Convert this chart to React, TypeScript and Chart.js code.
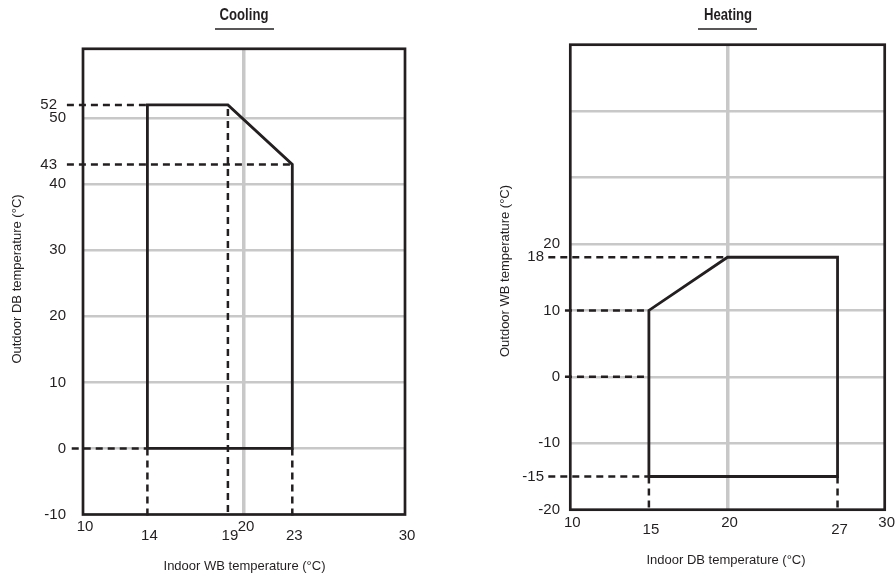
import React, { useEffect, useRef } from "react";
import { Chart, registerables } from "chart.js";

Chart.register(...registerables);

const INK = "#231f20";
const GRID_GREY = "#c8c8c8";
const TICK_FONT = '15px "Liberation Sans", Arial, sans-serif';
const AXIS_FONT = '13px "Liberation Sans", Arial, sans-serif';
const TITLE_FONT = 'bold 16px "Liberation Sans", Arial, sans-serif';
const TITLE_CONDENSE = 0.82;

// ---------------- Cooling ----------------
const coolingTitle = "Cooling";
const coolingXTitle = "Indoor WB temperature (°C)";
const coolingYTitle = "Outdoor DB temperature (°C)";
const coolingXTickLabels = [10, 14, 19, 20, 23, 30];
const coolingYTickLabels = [-10, 0, 10, 20, 30, 40, 43, 50, 52];
const coolingGridX = [20];
const coolingGridY = [0, 10, 20, 30, 40, 50];
const coolingEnvelopeX = [14, 14, 19, 23, 23, 14];
const coolingEnvelopeY = [0, 52, 52, 43, 0, 0];
// guide lines: [x1, y1, x2, y2] in axis units
const coolingGuides: number[][] = [
  [9.0, 52, 14, 52],
  [9.0, 43, 23, 43],
  [9.3, 0, 14, 0],
  [19, 51.4, 19, -10],
  [14, 0, 14, -10.5],
  [23, 0, 23, -10.5],
];

// ---------------- Heating ----------------
const heatingTitle = "Heating";
const heatingXTitle = "Indoor DB temperature (°C)";
const heatingYTitle = "Outdoor WB temperature (°C)";
const heatingXTickLabels = [10, 15, 20, 27, 30];
const heatingYTickLabels = [-20, -15, -10, 0, 10, 18, 20];
const heatingGridX = [20];
const heatingGridY = [-10, 0, 10, 20, 30, 40];
const heatingEnvelopeX = [15, 15, 20, 27, 27, 15];
const heatingEnvelopeY = [-15, 10, 18, 18, -15, -15];
const heatingGuides: number[][] = [
  [8.6, 18, 20, 18],
  [9.66, 10, 15, 10],
  [9.66, 0, 15, 0],
  [8.6, -15, 15, -15],
  [15, -15, 15, -20.4],
  [27, -15, 27, -20.4],
];

type Spec = {
  title: string;
  xTitle: string;
  yTitle: string;
  xTicks: number[];
  yTicks: number[];
  gridX: number[];
  gridY: number[];
  envX: number[];
  envY: number[];
  guides: number[][];
  xMin: number;
  xMax: number;
  yMin: number;
  yMax: number;
  // layout / style
  padding: { left: number; right: number; top: number; bottom: number };
  xLowered: number[];
  xRowUpper: number;
  xRowLower: number;
  yShifted: number[];
  yGap: number;
  yGapShifted: number;
  titleX: number;
  titleY: number;
  underline: [number, number, number];
  xTitlePos: [number, number];
  yTitlePos: [number, number];
};

const coolingSpec: Spec = {
  title: coolingTitle,
  xTitle: coolingXTitle,
  yTitle: coolingYTitle,
  xTicks: coolingXTickLabels,
  yTicks: coolingYTickLabels,
  gridX: coolingGridX,
  gridY: coolingGridY,
  envX: coolingEnvelopeX,
  envY: coolingEnvelopeY,
  guides: coolingGuides,
  xMin: 10,
  xMax: 30,
  yMin: -10,
  yMax: 60.5,
  padding: { left: 83, right: 43, top: 48.8, bottom: 65.5 },
  xLowered: [14, 19, 23, 30],
  xRowUpper: 526.5,
  xRowLower: 535.5,
  yShifted: [52, 43],
  yGap: 17,
  yGapShifted: 26,
  titleX: 244,
  titleY: 16,
  underline: [215, 274, 29],
  xTitlePos: [244.5, 566.5],
  yTitlePos: [17, 279],
};

const heatingSpec: Spec = {
  title: heatingTitle,
  xTitle: heatingXTitle,
  yTitle: heatingYTitle,
  xTicks: heatingXTickLabels,
  yTicks: heatingYTickLabels,
  gridX: heatingGridX,
  gridY: heatingGridY,
  envX: heatingEnvelopeX,
  envY: heatingEnvelopeY,
  guides: heatingGuides,
  xMin: 10,
  xMax: 30,
  yMin: -20,
  yMax: 50,
  padding: { left: 122.3, right: 11.3, top: 44.7, bottom: 70.3 },
  xLowered: [15, 27],
  xRowUpper: 522.5,
  xRowLower: 529.5,
  yShifted: [18, -15],
  yGap: 10.3,
  yGapShifted: 26.3,
  titleX: 280,
  titleY: 16,
  underline: [250, 309, 29],
  xTitlePos: [278, 560],
  yTitlePos: [57, 271],
};

function buildConfig(spec: Spec): any {
  const guideSets = spec.guides.map((g) => ({
    data: [
      { x: g[0], y: g[1] },
      { x: g[2], y: g[3] },
    ],
    showLine: true,
    borderColor: INK,
    borderWidth: 2.5,
    borderDash: [7, 5],
    pointRadius: 0,
    clip: false,
    fill: false,
  }));
  const envelope = {
    data: spec.envX.map((x, i) => ({ x, y: spec.envY[i] })),
    showLine: true,
    borderColor: INK,
    borderWidth: 2.8,
    borderJoinStyle: "miter",
    pointRadius: 0,
    clip: false,
    fill: false,
    tension: 0,
  };

  const framePlugin = {
    id: "frame",
    beforeDatasetsDraw(chart: any) {
      const { ctx, chartArea } = chart;
      ctx.save();
      ctx.strokeStyle = INK;
      ctx.lineWidth = 2.7;
      ctx.strokeRect(
        chartArea.left,
        chartArea.top,
        chartArea.right - chartArea.left,
        chartArea.bottom - chartArea.top
      );
      ctx.restore();
    },
  };

  const textPlugin = {
    id: "texts",
    afterDraw(chart: any) {
      const { ctx, chartArea } = chart;
      const xs = chart.scales.x;
      const ys = chart.scales.y;
      ctx.save();
      ctx.fillStyle = INK;
      // x tick labels
      ctx.font = TICK_FONT;
      ctx.textAlign = "center";
      ctx.textBaseline = "middle";
      spec.xTicks.forEach((v) => {
        const y = spec.xLowered.includes(v) ? spec.xRowLower : spec.xRowUpper;
        ctx.fillText(String(v), xs.getPixelForValue(v) + 2, y);
      });
      // y tick labels
      ctx.textAlign = "right";
      spec.yTicks.forEach((v) => {
        const gap = spec.yShifted.includes(v) ? spec.yGapShifted : spec.yGap;
        ctx.fillText(String(v), chartArea.left - gap, ys.getPixelForValue(v));
      });
      // axis titles
      ctx.font = AXIS_FONT;
      ctx.textAlign = "center";
      ctx.fillText(spec.xTitle, spec.xTitlePos[0], spec.xTitlePos[1]);
      ctx.save();
      ctx.translate(spec.yTitlePos[0], spec.yTitlePos[1]);
      ctx.rotate(-Math.PI / 2);
      ctx.fillText(spec.yTitle, 0, 0);
      ctx.restore();
      // chart title (condensed bold) with underline
      ctx.save();
      ctx.font = TITLE_FONT;
      ctx.translate(spec.titleX, spec.titleY);
      ctx.scale(TITLE_CONDENSE, 1);
      ctx.fillText(spec.title, 0, 0);
      ctx.restore();
      ctx.strokeStyle = INK;
      ctx.lineWidth = 1.5;
      ctx.beginPath();
      ctx.moveTo(spec.underline[0], spec.underline[2]);
      ctx.lineTo(spec.underline[1], spec.underline[2]);
      ctx.stroke();
      ctx.restore();
    },
  };

  return {
    type: "scatter",
    data: { datasets: [envelope, ...guideSets] },
    options: {
      animation: false,
      responsive: false,
      events: [],
      layout: { padding: spec.padding },
      plugins: {
        legend: { display: false },
        tooltip: { enabled: false },
        title: { display: false },
      },
      scales: {
        x: {
          type: "linear",
          min: spec.xMin,
          max: spec.xMax,
          afterBuildTicks: (s: any) => {
            s.ticks = spec.gridX.map((v) => ({ value: v }));
          },
          afterFit: (s: any) => {
            s.height = 0;
          },
          ticks: { display: false },
          grid: { color: GRID_GREY, lineWidth: 3.5, drawTicks: false },
          border: { display: false },
        },
        y: {
          type: "linear",
          min: spec.yMin,
          max: spec.yMax,
          afterBuildTicks: (s: any) => {
            s.ticks = spec.gridY.map((v) => ({ value: v }));
          },
          afterFit: (s: any) => {
            s.width = 0;
          },
          ticks: { display: false },
          grid: { color: GRID_GREY, lineWidth: 2.5, drawTicks: false },
          border: { display: false },
        },
      },
    },
    plugins: [framePlugin, textPlugin],
  };
}

function Panel({ spec, left }: { spec: Spec; left: number }) {
  const ref = useRef<HTMLCanvasElement | null>(null);
  useEffect(() => {
    if (!ref.current) return;
    const chart = new Chart(ref.current, buildConfig(spec));
    return () => chart.destroy();
  }, [spec]);
  return (
    <canvas
      ref={ref}
      width={448}
      height={580}
      style={{ position: "absolute", left, top: 0, width: 448, height: 580 }}
    />
  );
}

export default function App() {
  return (
    <div
      style={{
        position: "absolute",
        left: 0,
        top: 0,
        width: 896,
        height: 580,
        background: "#ffffff",
        overflow: "hidden",
      }}
    >
      <Panel spec={coolingSpec} left={0} />
      <Panel spec={heatingSpec} left={448} />
    </div>
  );
}
